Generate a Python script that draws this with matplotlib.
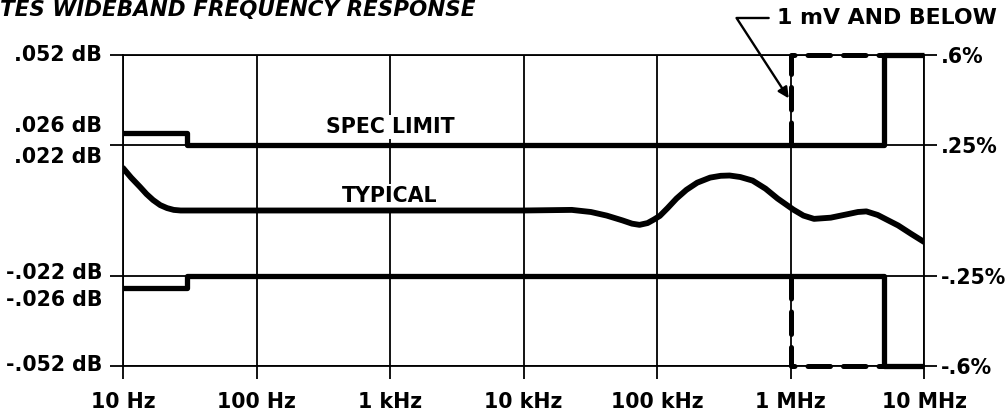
import matplotlib
matplotlib.use("Agg")
import matplotlib.pyplot as plt

# --- data ---
freq_ticks = [10, 100, 1e3, 1e4, 1e5, 1e6, 1e7]
freq_labels = ["10 Hz", "100 Hz", "1 kHz", "10 kHz", "100 kHz", "1 MHz", "10 MHz"]

grid_db = [0.052, 0.022, -0.022, -0.052]
right_labels = [".6%", ".25%", "-.25%", "-.6%"]

# spec limit envelope (dB)
spec_freq = [10, 30, 30, 5e6, 5e6, 1e7]
spec_upper = [0.026, 0.026, 0.022, 0.022, 0.052, 0.052]
spec_lower = [-0.026, -0.026, -0.022, -0.022, -0.052, -0.052]

# relaxed limit for 1 mV and below (dashed)
low_mv_freq = [1e6, 1e6, 5e6]
low_mv_upper = [0.022, 0.052, 0.052]
low_mv_lower = [-0.022, -0.052, -0.052]

# typical response (dB)
typical_freq = [10, 11.5, 13.4, 15, 16.8, 19, 21.4, 24, 27, 35,
                100, 1e3, 1e4,
                2.3e4, 3.2e4, 4.2e4, 5.5e4, 6.5e4, 7.4e4, 8.5e4, 9.5e4,
                1.05e5, 1.2e5, 1.4e5, 1.66e5, 2e5, 2.5e5, 3e5, 3.5e5, 4.2e5, 5.2e5, 6.5e5, 8e5,
                1.05e6, 1.25e6, 1.5e6, 2e6, 2.7e6, 3.2e6, 3.7e6, 4.5e6, 5.5e6, 6.4e6, 8e6, 1e7]
typical_db = [0.0142, 0.011, 0.0079, 0.0055, 0.0035, 0.0018, 0.0008, 0.0002, 0.0, 0.0,
              0.0, 0.0, 0.0,
              0.0002, -0.0005, -0.0017, -0.0033, -0.0044, -0.0048, -0.0042, -0.0030,
              -0.0018, 0.0008, 0.0040, 0.0069, 0.0093, 0.0110, 0.0116, 0.0117, 0.0112, 0.0100, 0.0073, 0.0040,
              0.0003, -0.0017, -0.0028, -0.0024, -0.0012, -0.0005, -0.0003, -0.0015, -0.0035, -0.0050, -0.0078, -0.0105]

plt.rcParams["font.family"] = ["DejaVu Sans"]
plt.rcParams["font.weight"] = "bold"
FS = 14.8

fig = plt.figure(figsize=(10.08, 4.17), dpi=100, facecolor="white")
ax = fig.add_axes([123 / 1008, 51 / 417, 801 / 1008, 311 / 417])

ax.set_xscale("log")
ax.set_xlim(10, 1e7)
ax.set_ylim(-0.052, 0.052)

# grid / frame
ax.set_xticks(freq_ticks)
ax.set_xticklabels(freq_labels, fontsize=FS, fontweight="bold")
ax.minorticks_off()
ax.set_yticks(grid_db)
ax.set_yticklabels(right_labels, fontsize=FS, fontweight="bold")
ax.tick_params(axis="x", direction="out", length=9.5, width=1.3, pad=9)
ax.tick_params(axis="y", direction="out", length=9.5, width=1.3, pad=3,
               left=True, right=True, labelleft=False, labelright=True)
ax.grid(True, color="black", lw=1.3)
for sp in ax.spines.values():
    sp.set_linewidth(1.3)

# left axis labels (two stacked around the inner limit lines)
left_labels = [(0.052, ".052 dB", 0), (0.022, ".026 dB", 19), (0.022, ".022 dB", -12),
               (-0.022, "-.022 dB", 3), (-0.022, "-.026 dB", -24), (-0.052, "-.052 dB", 1)]
for val, txt, off in left_labels:
    ax.annotate(txt, xy=(0, val), xycoords=("axes fraction", "data"),
                xytext=(-15, off * 0.72), textcoords="offset points",
                ha="right", va="center", fontsize=FS, fontweight="bold",
                annotation_clip=False)

# spec limits
for lim in (spec_upper, spec_lower):
    ax.plot(spec_freq, lim, color="black", lw=3.8, solid_joinstyle="round",
            solid_capstyle="butt", clip_on=False, zorder=3)
for lim in (low_mv_upper, low_mv_lower):
    ax.plot(low_mv_freq, lim, color="black", lw=3.6, ls=(0, (4.5, 2.6)),
            dash_capstyle="round", clip_on=False, zorder=3)

# typical curve
ax.plot(typical_freq, typical_db, color="black", lw=4.2, solid_capstyle="round",
        solid_joinstyle="round", zorder=3)

txt_box = dict(facecolor="white", edgecolor="none", pad=1.5)
ax.text(1e3, 0.0278, "SPEC LIMIT", ha="center", va="center", fontsize=FS,
        fontweight="bold", bbox=txt_box, zorder=2.5)
ax.text(1e3, 0.0048, "TYPICAL", ha="center", va="center", fontsize=FS,
        fontweight="bold", bbox=txt_box, zorder=2.5)

ax.annotate("1 mV AND BELOW", xy=(0.97e6, 0.0375), xytext=(0.8165, 1.119),
            textcoords="axes fraction", ha="left", va="center", fontsize=15.8,
            fontweight="bold", annotation_clip=False,
            arrowprops=dict(arrowstyle="-|>", color="black", lw=1.7,
                            connectionstyle="angle,angleA=180,angleB=123,rad=0",
                            relpos=(0, 0.5), shrinkA=4, shrinkB=0, mutation_scale=16))

fig.text(0.0, 1 - 16 / 417, "TES WIDEBAND FREQUENCY RESPONSE", ha="left", va="baseline",
         fontsize=15.5, fontweight="bold", style="italic")

fig.savefig("out.png", dpi=100, facecolor="white")
plt.close(fig)
